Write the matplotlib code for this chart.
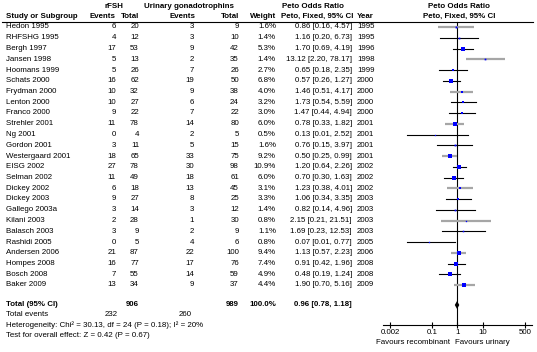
import matplotlib
matplotlib.use("Agg")
from matplotlib import pyplot as plt

plt.rcParams['font.family'] = ['Liberation Sans', 'DejaVu Sans']

studies = ["Hedon 1995", "RHFSHG 1995", "Bergh 1997", "Jansen 1998", "Hoomans 1999",
           "Schats 2000", "Frydman 2000", "Lenton 2000", "Franco 2000", "Strehler 2001",
           "Ng 2001", "Gordon 2001", "Westergaard 2001", "EISG 2002", "Selman 2002",
           "Dickey 2002", "Dickey 2003", "Gallego 2003a", "Kilani 2003", "Balasch 2003",
           "Rashidi 2005", "Andersen 2006", "Hompes 2008", "Bosch 2008", "Baker 2009"]
rfsh_events = [6, 4, 17, 5, 5, 16, 10, 10, 9, 11, 0, 3, 18, 27, 11, 6, 9, 3, 2, 3, 0, 21, 16, 7, 13]
rfsh_total = [20, 12, 53, 13, 26, 62, 32, 27, 22, 78, 4, 11, 65, 78, 49, 18, 27, 14, 28, 9, 5, 87, 77, 55, 34]
uri_events = [3, 3, 9, 2, 7, 19, 9, 6, 7, 14, 2, 5, 33, 30, 18, 13, 8, 3, 1, 2, 4, 22, 17, 14, 9]
uri_total = [9, 10, 42, 35, 26, 50, 38, 24, 22, 80, 5, 15, 75, 98, 61, 45, 25, 12, 30, 9, 6, 100, 76, 59, 37]
weights = [1.6, 1.4, 5.3, 1.4, 2.7, 6.8, 4.0, 3.2, 3.0, 6.0, 0.5, 1.6, 9.2, 10.9, 6.0,
           3.1, 3.3, 1.4, 0.8, 1.1, 0.8, 9.4, 7.4, 4.9, 4.4]
odds = [0.86, 1.16, 1.70, 13.12, 0.65, 0.57, 1.46, 1.73, 1.47, 0.78, 0.13, 0.76, 0.50, 1.20, 0.70,
        1.23, 1.06, 0.82, 2.15, 1.69, 0.07, 1.13, 0.91, 0.48, 1.90]
ci_low = [0.16, 0.20, 0.69, 2.20, 0.18, 0.26, 0.51, 0.54, 0.44, 0.33, 0.01, 0.15, 0.25, 0.64, 0.30,
          0.38, 0.34, 0.14, 0.21, 0.23, 0.01, 0.57, 0.42, 0.19, 0.70]
ci_high = [4.57, 6.73, 4.19, 78.17, 2.35, 1.27, 4.17, 5.59, 4.94, 1.82, 2.52, 3.97, 0.99, 2.26, 1.63,
           4.01, 3.35, 4.96, 21.51, 12.53, 0.77, 2.23, 1.96, 1.24, 5.16]
years = [1995, 1995, 1996, 1998, 1999, 2000, 2000, 2000, 2000, 2001, 2001, 2001, 2001, 2002, 2002,
         2002, 2003, 2003, 2003, 2003, 2005, 2006, 2008, 2008, 2009]

total_rfsh = 906
total_uri = 989
total_or, total_lo, total_hi = 0.96, 0.78, 1.18
events_rfsh = 232
events_uri = 260
ticks = [0.002, 0.1, 1, 10, 500]
tick_labels = ["0.002", "0.1", "1", "10", "500"]

FS = 5.7
W, H = 537, 352

fig = plt.figure(figsize=(W / 100, H / 100), dpi=100)
ax = fig.add_axes([0, 0, 1, 1])
ax.set_xlim(0, W)
ax.set_ylim(H, 0)
ax.axis('off')

# header
ax.text(114, 7, "rFSH", ha='center', va='center', fontsize=FS, fontweight='bold')
ax.text(189, 7, "Urinary gonadotrophins", ha='center', va='center', fontsize=FS, fontweight='bold')
ax.text(313, 7, "Peto Odds Ratio", ha='center', va='center', fontsize=FS, fontweight='bold')
ax.text(459, 7, "Peto Odds Ratio", ha='center', va='center', fontsize=FS, fontweight='bold')
hy = 16.5
ax.text(6, hy, "Study or Subgroup", ha='left', va='center', fontsize=FS, fontweight='bold')
ax.text(116, hy, "Events", ha='right', va='center', fontsize=FS, fontweight='bold')
ax.text(139, hy, "Total", ha='right', va='center', fontsize=FS, fontweight='bold')
ax.text(195, hy, "Events", ha='right', va='center', fontsize=FS, fontweight='bold')
ax.text(239, hy, "Total", ha='right', va='center', fontsize=FS, fontweight='bold')
ax.text(276, hy, "Weight", ha='right', va='center', fontsize=FS, fontweight='bold')
ax.text(317, hy, "Peto, Fixed, 95% CI", ha='center', va='center', fontsize=FS, fontweight='bold')
ax.text(357, hy, "Year", ha='left', va='center', fontsize=FS, fontweight='bold')
ax.text(459, hy, "Peto, Fixed, 95% CI", ha='center', va='center', fontsize=FS, fontweight='bold')
ax.plot([2, 533], [22, 22], color='black', lw=0.8)

row_y = [27 + i * 10.75 for i in range(len(studies))]
for i, y in enumerate(row_y):
    ax.text(6, y, studies[i], ha='left', va='center', fontsize=FS)
    ax.text(116, y, str(rfsh_events[i]), ha='right', va='center', fontsize=FS)
    ax.text(139, y, str(rfsh_total[i]), ha='right', va='center', fontsize=FS)
    ax.text(194, y, str(uri_events[i]), ha='right', va='center', fontsize=FS)
    ax.text(239, y, str(uri_total[i]), ha='right', va='center', fontsize=FS)
    ax.text(276, y, "%.1f%%" % weights[i], ha='right', va='center', fontsize=FS)
    ax.text(352, y, "%.2f [%.2f, %.2f]" % (odds[i], ci_low[i], ci_high[i]),
            ha='right', va='center', fontsize=FS)
    ax.text(357, y, str(years[i]), ha='left', va='center', fontsize=FS)

ty = 305
ax.text(6, ty, "Total (95% CI)", ha='left', va='center', fontsize=FS, fontweight='bold')
ax.text(139, ty, str(total_rfsh), ha='right', va='center', fontsize=FS, fontweight='bold')
ax.text(239, ty, str(total_uri), ha='right', va='center', fontsize=FS, fontweight='bold')
ax.text(276, ty, "100.0%", ha='right', va='center', fontsize=FS, fontweight='bold')
ax.text(352, ty, "%.2f [%.2f, %.2f]" % (total_or, total_lo, total_hi),
        ha='right', va='center', fontsize=FS, fontweight='bold')
ax.text(6, 314.5, "Total events", ha='left', va='center', fontsize=FS)
ax.text(118, 314.5, str(events_rfsh), ha='right', va='center', fontsize=FS)
ax.text(192, 314.5, str(events_uri), ha='right', va='center', fontsize=FS)
ax.text(6, 325, "Heterogeneity: Chi\u00b2 = 30.13, df = 24 (P = 0.18); I\u00b2 = 20%",
        ha='left', va='center', fontsize=FS)
ax.text(6, 335.5, "Test for overall effect: Z = 0.42 (P = 0.67)", ha='left', va='center', fontsize=FS)

# forest panel
fx = fig.add_axes([383 / W, 0, 149 / W, 1])
fx.set_xscale('log')
fx.set_xlim(0.00105, 953)
fx.set_ylim(H, 0)
fx.patch.set_visible(False)
for s in ['top', 'left', 'right']:
    fx.spines[s].set_visible(False)
fx.spines['bottom'].set_position(('data', 325))
fx.spines['bottom'].set_linewidth(0.8)
fx.set_yticks([])
fx.set_xticks(ticks)
fx.set_xticklabels(tick_labels, fontsize=FS)
fx.minorticks_off()
fx.tick_params(axis='x', direction='inout', length=5, width=0.8, pad=0.5)

fx.plot([1, 1], [22, 325], color='black', lw=0.8)
for i, y in enumerate(row_y):
    if i % 3 == 0:
        fx.plot([ci_low[i], ci_high[i]], [y, y], color='#a6a6a6', lw=1.6, solid_capstyle='butt')
    else:
        fx.plot([ci_low[i], ci_high[i]], [y, y], color='black', lw=0.8)
    fx.plot(odds[i], y, marker='s', color='#0000ff', markersize=max(weights[i] ** 0.5 * 1.05, 0.9),
            markeredgewidth=0)

fx.fill([total_lo, total_or, total_hi, total_or], [ty, ty - 4, ty, ty + 4], color='black', lw=0)

fx.text(0.52, 342.5, "Favours recombinant", ha='right', va='center', fontsize=FS)
fx.text(0.76, 342.5, "Favours urinary", ha='left', va='center', fontsize=FS)

fig.savefig("out.png", dpi=100)
